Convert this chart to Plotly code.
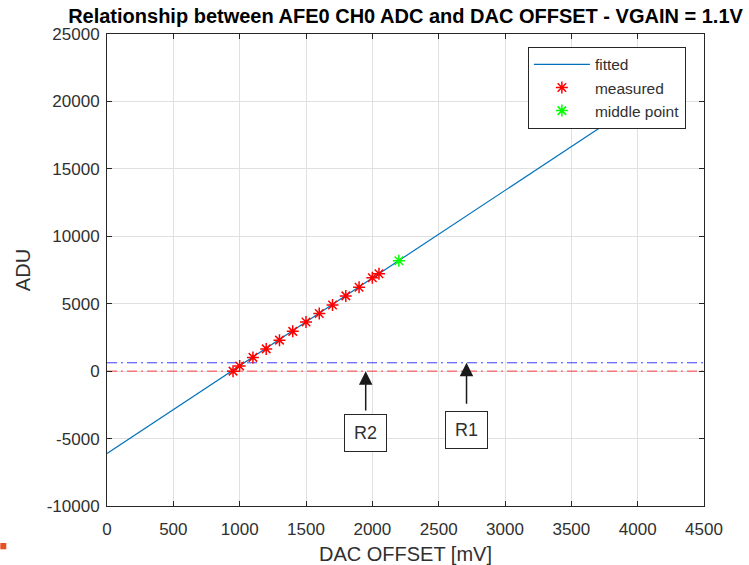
import plotly.graph_objects as go

# Measured ADC output versus DAC offset (AFE0, CH0, VGAIN = 1.1 V)
dac_measured = [950, 1000, 1100, 1200, 1300, 1400, 1500, 1600, 1700, 1800, 1900, 2000, 2050]
adu_measured = [0, 380, 1020, 1650, 2300, 2950, 3650, 4280, 4900, 5580, 6220, 6920, 7220]

# Middle point of the fitted range
dac_middle = [2200]
adu_middle = [8180]

# Linear fit evaluated at the ends of the plotted DAC range
dac_fit = [0, 4000]
adu_fit = [-6100, 19900]

# Reference levels R1 and R2
ref_x = [0, 4500]
r1_level = 620
r2_level = 0

# Arrow anchors (DAC position, tail ADU, box ADU)
r1_arrow = (2710, -2530, -4330)
r2_arrow = (1950, -3030, -4620)

x_ticks = list(range(0, 4501, 500))
y_ticks = list(range(-10000, 25001, 5000))
x_tick_text = [str(v) for v in x_ticks]
y_tick_text = [str(v) for v in y_ticks]

FONT = "Liberation Sans, Arial, Helvetica, sans-serif"
AXIS_COLOR = "#262626"
TEXT_COLOR = "#303030"

fig = go.Figure()

fig.add_trace(go.Scatter(
    x=ref_x, y=[r1_level, r1_level], mode="lines",
    line=dict(color="#3c3cff", width=1, dash="10px,4px,2px,4px"),
    showlegend=False, hoverinfo="skip"))
fig.add_trace(go.Scatter(
    x=ref_x, y=[r2_level, r2_level], mode="lines",
    line=dict(color="#ff3c3c", width=1, dash="10px,4px,2px,4px"),
    showlegend=False, hoverinfo="skip"))

fig.add_trace(go.Scatter(
    x=dac_fit, y=adu_fit, mode="lines", name="fitted",
    line=dict(color="#0072BD", width=1.2)))
fig.add_trace(go.Scatter(
    x=dac_measured, y=adu_measured, mode="markers", name="measured",
    marker=dict(symbol="asterisk-open", size=10, color="#ff0000",
                line=dict(color="#ff0000", width=1.5))))
fig.add_trace(go.Scatter(
    x=dac_middle, y=adu_middle, mode="markers", name="middle point",
    marker=dict(symbol="asterisk-open", size=10, color="#00ff00",
                line=dict(color="#00ff00", width=1.5))))

# Arrows pointing at the reference levels, with labelled boxes below
for label, (ax_x, tail_y, box_y), level in (("R1", r1_arrow, r1_level),
                                             ("R2", r2_arrow, r2_level)):
    fig.add_annotation(
        x=ax_x, y=level, ax=ax_x, ay=tail_y, axref="x", ayref="y",
        xref="x", yref="y", text="", showarrow=True,
        arrowhead=2, arrowsize=1.8, arrowwidth=1.5, arrowcolor="#1a1a1a")
    fig.add_annotation(
        x=ax_x, y=box_y, xref="x", yref="y", text=label, showarrow=False,
        font=dict(family=FONT, size=18, color=TEXT_COLOR),
        bordercolor="#262626", borderwidth=1, borderpad=0,
        bgcolor="white", width=41, height=36)

axis_common = dict(
    showline=True, linecolor=AXIS_COLOR, linewidth=1, mirror="ticks",
    ticks="inside", ticklen=5, tickcolor=AXIS_COLOR,
    showgrid=True, gridcolor="#e0e0e0", gridwidth=1, automargin=False,
    zeroline=False, tickfont=dict(family=FONT, size=17, color=TEXT_COLOR),
    title_font=dict(family=FONT, size=20, color=TEXT_COLOR))

fig.update_xaxes(range=[0, 4500], tickvals=x_ticks, ticktext=x_tick_text,
                 ticklabelstandoff=8,
                 title_text="DAC OFFSET [mV]", title_standoff=10, **axis_common)
fig.update_yaxes(range=[-10000, 25000], tickvals=y_ticks, ticktext=y_tick_text,
                 ticklabelstandoff=3,
                 title_text="ADU", title_standoff=10, **axis_common)

# Small orange marker at the lower left of the page
fig.add_shape(type="rect", xref="paper", yref="paper",
              x0=-0.1787, x1=-0.1687, y0=-0.0917, y1=-0.0784,
              fillcolor="#ea4f24", line=dict(width=0))

fig.update_layout(
    width=749, height=565,
    margin=dict(l=107, r=45, t=34, b=59),
    paper_bgcolor="white", plot_bgcolor="white",
    title=dict(text="<b>Relationship between AFE0 CH0 ADC and DAC OFFSET - VGAIN = 1.1V</b>",
               x=0.5, xref="paper", xanchor="center",
               y=0.9725, yref="container", yanchor="middle",
               font=dict(family=FONT, size=20, color="#000000")),
    legend=dict(x=0.705, y=0.973, xanchor="left", yanchor="top",
                bgcolor="white", bordercolor="#262626", borderwidth=1,
                font=dict(family=FONT, size=15.5, color=TEXT_COLOR),
                itemwidth=56, tracegroupgap=2),
    showlegend=True,
)

fig.write_html("out.html")
